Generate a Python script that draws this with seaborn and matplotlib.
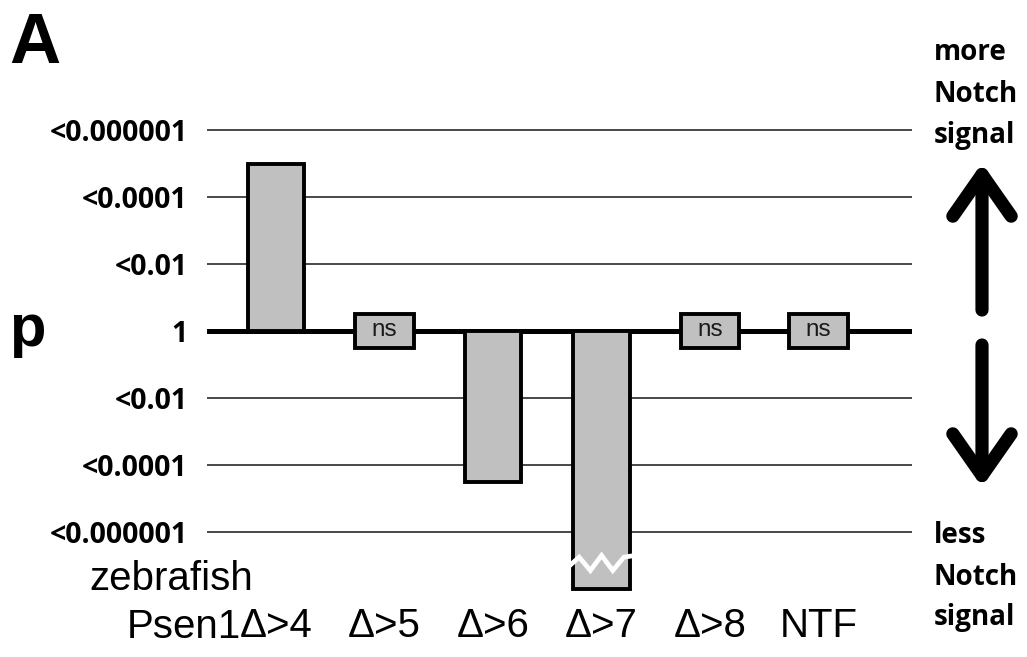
import matplotlib
matplotlib.use("Agg")
import matplotlib.pyplot as plt
import matplotlib.transforms as mtransforms
import numpy as np
import pandas as pd
import seaborn as sns

# Psen1 variants and their Notch-signal significance, as signed -log10(p):
# positive = more Notch signal, negative = less Notch signal.
categories = ["Δ>4", "Δ>5", "Δ>6", "Δ>7", "Δ>8", "NTF"]
significant = ["Δ>4", "Δ>6", "Δ>7"]
signed_log_p = [5.0, -4.5, -7.7]
not_significant = ["Δ>5", "Δ>8", "NTF"]

# p-value levels for the horizontal reference lines
level_positions = [6, 4, 2, 0, -2, -4, -6]
level_labels = ["<0.000001", "<0.0001", "<0.01", "1", "<0.01", "<0.0001", "<0.000001"]

# level at which the tallest bar is shown broken
break_level = -7.0

W, H = 1027, 657
sns.set_style("white")
plt.rcParams["font.family"] = ["Liberation Sans", "DejaVu Sans"]
plt.rcParams["text.color"] = "black"
plt.rcParams["xtick.color"] = "black"
plt.rcParams["ytick.color"] = "black"

fig = plt.figure(figsize=(W / 100, H / 100), dpi=100)


def fx(x):
    return x / W


def fy(y):
    return 1 - y / H


# axes box in pixel units: left, top, right, bottom
ax_l, ax_t, ax_r, ax_b = 207, 120, 912, 600
ax = fig.add_axes([fx(ax_l), fy(ax_b), (ax_r - ax_l) / W, (ax_b - ax_t) / H])

df = pd.DataFrame({"variant": significant, "value": signed_log_p})

# reference lines
for lv in level_positions:
    if lv == 0:
        ax.axhline(lv, color="black", lw=3.6, zorder=1.5)
    else:
        ax.axhline(lv, color="#3a3a3a", lw=1.3, zorder=0.5)

sns.barplot(data=df, x="variant", y="value", order=categories,
            color="#c0c0c0", saturation=1, edgecolor="black",
            linewidth=2.8, width=0.52, ax=ax, zorder=2)

# non-significant results as small boxes straddling p = 1
ns_idx = [categories.index(c) for c in not_significant]
ax.bar(ns_idx, [1.0] * len(ns_idx), bottom=-0.5, width=0.54,
       color="#c0c0c0", edgecolor="black", linewidth=2.8, zorder=3)
for i in ns_idx:
    ax.text(i, 0.04, "ns", ha="center", va="center", fontsize=17.5,
            color="#1a1a1a", zorder=4)

# white zig-zag marking the broken bar
bi = categories.index("Δ>7")
zx = np.linspace(bi - 0.31, bi + 0.31, 7)
zy = break_level + np.array([-0.05, 0.25, -0.15, 0.3, -0.15, 0.25, 0.3])
ax.plot(zx, zy, color="white", lw=3.4, zorder=5, solid_joinstyle="miter")

ax.set_xlim(-0.635, 5.86)
ax.set_ylim(-8.03, 6.3)
for s in ax.spines.values():
    s.set_visible(False)

ax.set_yticks(level_positions)
ax.set_yticklabels(level_labels, fontsize=20.5, fontweight="bold",
                   family=["Open Sans", "DejaVu Sans"])
ax.tick_params(axis="y", length=0, pad=14)
ax.set_xticks(range(len(categories)))
ax.set_xticklabels(categories, fontsize=29)
ax.tick_params(axis="x", length=0, pad=5)
ax.set_xlabel("")
ax.set_ylabel("")

# species / gene labels beneath the axis
blend = mtransforms.blended_transform_factory(ax.transData, fig.transFigure)
ax.text(-0.32, fy(638), "Psen1", transform=blend, ha="right",
        va="baseline", fontsize=29)
fig.text(fx(89), fy(590), "zebrafish", ha="left", va="baseline", fontsize=29)

# panel letter and axis label
fig.text(fx(9), fy(63), "A", ha="left", va="baseline", fontsize=51,
         fontweight="bold")
fig.text(fx(9), fy(346), "p", ha="left", va="baseline", fontsize=43,
         fontweight="bold")

# direction annotations on the right
side_font = dict(fontsize=20, fontweight="bold",
                 family=["Open Sans", "DejaVu Sans"], ha="left",
                 va="baseline")
for txt, y in [("more", 60), ("Notch", 102), ("signal", 143),
               ("less", 543), ("Notch", 585), ("signal", 625)]:
    fig.text(fx(934), fy(y), txt, **side_font)

arrow_style = "->,head_length=1.0,head_width=0.7"
for tail, tip in [((982, H - 310), (982, H - 163)),
                  ((982, H - 345), (982, H - 487))]:
    ax.annotate("", xy=tip, xytext=tail, xycoords="figure pixels",
                textcoords="figure pixels",
                arrowprops=dict(arrowstyle=arrow_style, lw=9.5, color="black",
                                shrinkA=0, shrinkB=0, mutation_scale=30))

fig.savefig("out.png", dpi=100)
